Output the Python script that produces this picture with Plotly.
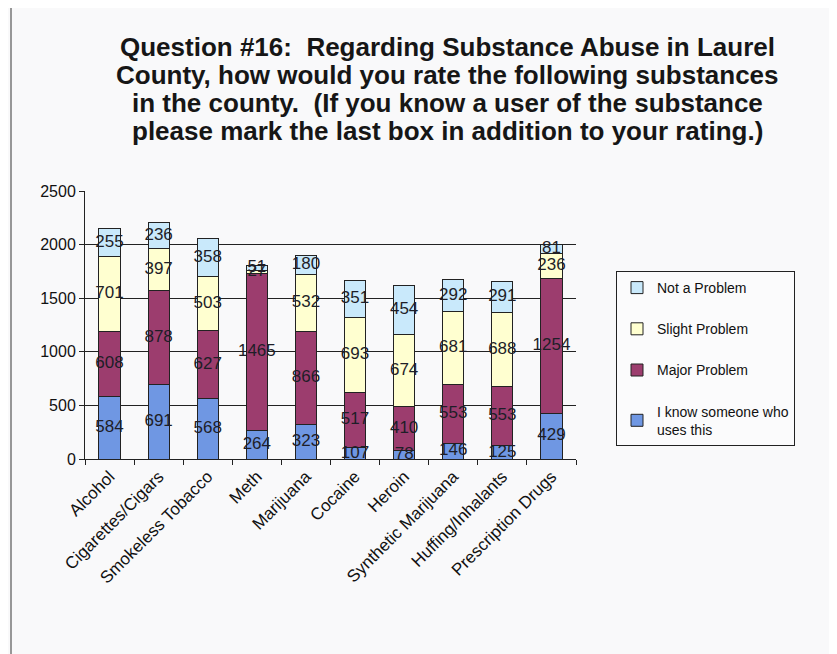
import plotly.graph_objects as go

categories = ["Alcohol", "Cigarettes/Cigars", "Smokeless Tobacco", "Meth", "Marijuana",
              "Cocaine", "Heroin", "Synthetic Marijuana", "Huffing/Inhalants", "Prescription Drugs"]
know_user = [584, 691, 568, 264, 323, 107, 78, 146, 125, 429]
major_problem = [608, 878, 627, 1465, 866, 517, 410, 553, 553, 1254]
slight_problem = [701, 397, 503, 27, 532, 693, 674, 681, 688, 236]
not_problem = [255, 236, 358, 51, 180, 351, 454, 292, 291, 81]

series = [
    ("I know someone who<br>uses this", know_user, "#6f97e3"),
    ("Major Problem", major_problem, "#9c3d6e"),
    ("Slight Problem", slight_problem, "#ffffd0"),
    ("Not a Problem", not_problem, "#c9e9fb"),
]

title_lines = [
    "Question #16:  Regarding Substance Abuse in Laurel",
    "County, how would you rate the following substances",
    "in the county.  (If you know a user of the substance",
    "please mark the last box in addition to your rating.)",
]

OFF = 8  # page body margin
W, H = 837 - OFF, 654 - OFF
L, R, T, B = 85 - OFF, 576 - OFF, 191 - OFF, 459 - OFF  # plot area box in figure pixels

def px_x(px):
    return (px - OFF - L) / (R - L)

def px_y(py):
    return (B - (py - OFF)) / (B - T)

FONT = "Liberation Sans, Arial, sans-serif"

fig = go.Figure()
base = [0] * len(categories)
n = len(series)
for i, (name, vals, color) in enumerate(series):
    rank = n - i
    fig.add_trace(go.Bar(
        x=categories, y=vals, name=name,
        marker=dict(color=color, line=dict(color="#222222", width=1)),
        legendgroup=f"g{i}", legendrank=rank, width=0.43,
    ))
    mids = [b + v / 2 for b, v in zip(base, vals)]
    fig.add_trace(go.Scatter(
        x=categories, y=mids, mode="text", text=[str(v) for v in vals],
        textfont=dict(family=FONT, size=17, color="#1e1e28"),
        showlegend=False, hoverinfo="skip", cliponaxis=False,
        legendgroup=f"g{i}", legendrank=rank,
    ))
    base = [b + v for b, v in zip(base, vals)]

annotations = []
for k, line in enumerate(title_lines):
    annotations.append(dict(
        text="<b>" + line + "</b>", xref="paper", yref="paper", x=px_x(447), y=px_y(47 + 28 * k),
        xanchor="center", yanchor="middle", showarrow=False,
        font=dict(family=FONT, size=26, color="#161616"),
    ))

fig.update_layout(
    width=W, height=H,
    margin=dict(l=L, r=W - R, t=T, b=H - B, pad=0),
    barmode="stack",
    paper_bgcolor="#f9f9fa",
    plot_bgcolor="#f9f9fa",
    font=dict(family=FONT, color="#111111"),
    showlegend=True,
    legend=dict(
        x=px_x(616), y=px_y(271), xanchor="left", yanchor="top",
        bgcolor="#fbfbfc", bordercolor="#222222", borderwidth=1,
        font=dict(size=14, color="#111111"),
        traceorder="grouped", tracegroupgap=20,
        itemwidth=30,
    ),
    annotations=annotations,
    shapes=[dict(type="rect", xref="paper", yref="paper",
                 x0=px_x(11), y0=px_y(700), x1=px_x(900), y1=px_y(7),
                 line=dict(color="#777777", width=1.5), layer="below")],
    xaxis=dict(
        showline=True, linecolor="#222222", linewidth=1,
        ticks="outside", tickson="boundaries", ticklen=5, tickcolor="#222222",
        tickangle=-45, tickfont=dict(size=17, color="#111111"),
        showgrid=False,
    ),
    yaxis=dict(
        range=[0, 2500], dtick=500, tick0=0,
        showline=True, linecolor="#222222", linewidth=1,
        ticks="outside", ticklen=5, tickcolor="#222222",
        showgrid=True, gridcolor="#222222", gridwidth=1,
        tickfont=dict(size=16, color="#111111"),
        zeroline=False,
    ),
)

fig.write_html("out.html")
